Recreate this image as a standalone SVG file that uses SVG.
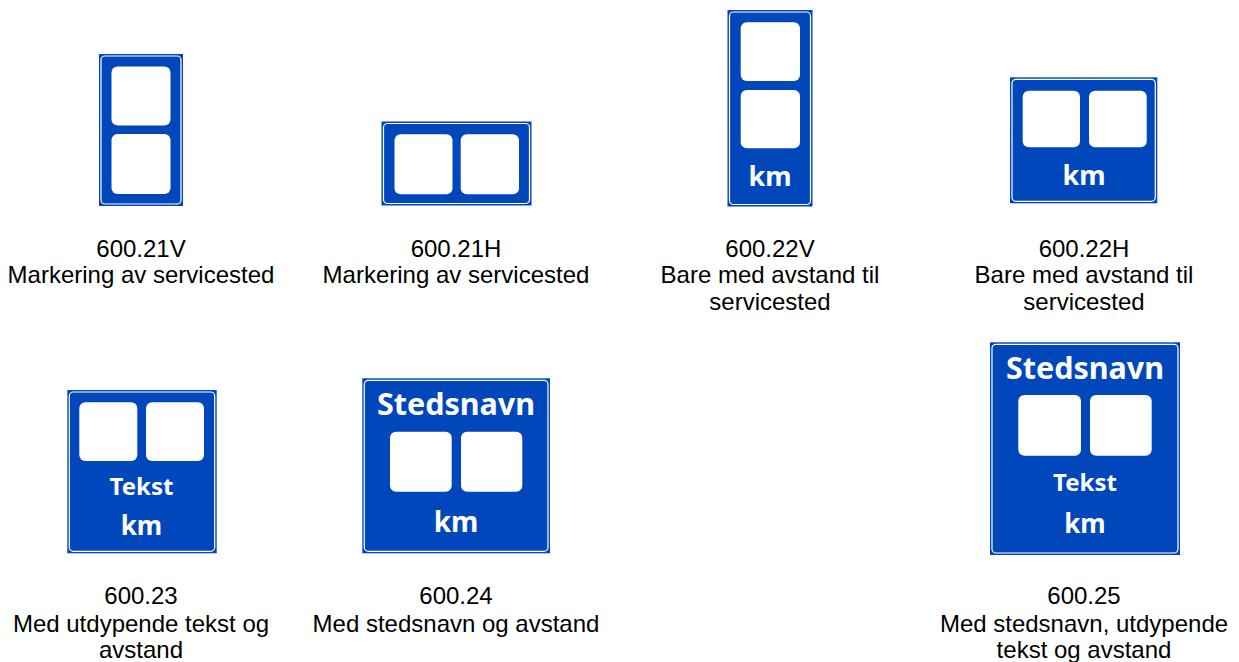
<svg xmlns="http://www.w3.org/2000/svg" width="1239" height="662" viewBox="0 0 1239 662">
<style>
.bg{fill:#0047bb}
.edge{fill:none;stroke:#ffffff;stroke-width:1.2}
.box{fill:#ffffff}
.st{font-family:"Noto Sans","DejaVu Sans",sans-serif;font-weight:bold;fill:#ffffff;text-anchor:middle}
.lb{font-family:"Liberation Sans",Arial,sans-serif;font-size:24px;fill:#000000;text-anchor:middle}
</style>
<rect width="1239" height="662" fill="#ffffff"/>

<g id="sign-600-21V">
<rect class="bg" x="99" y="54" width="84" height="152"/>
<rect class="edge" x="101" y="56" width="80" height="148" rx="4"/>
<rect class="box" x="111.5" y="66.5" width="59" height="59" rx="6"/>
<rect class="box" x="111.5" y="134" width="59" height="60" rx="6"/>
<text class="lb" x="141" y="256.5">600.21V</text>
<text class="lb" x="141" y="283.3">Markering av servicested</text>
</g>

<g id="sign-600-21H">
<rect class="bg" x="381.5" y="121.5" width="150" height="84"/>
<rect class="edge" x="383.5" y="123.5" width="146" height="80" rx="4"/>
<rect class="box" x="394.5" y="134.3" width="58" height="60" rx="6"/>
<rect class="box" x="460.7" y="134.3" width="58.3" height="60" rx="6"/>
<text class="lb" x="456" y="256.5">600.21H</text>
<text class="lb" x="456" y="283.3">Markering av servicested</text>
</g>

<g id="sign-600-22V">
<rect class="bg" x="727.5" y="10" width="85" height="196.5"/>
<rect class="edge" x="729.5" y="12" width="81" height="192.5" rx="4"/>
<rect class="box" x="740.7" y="22.3" width="59.3" height="58.7" rx="6"/>
<rect class="box" x="740.7" y="90" width="59.3" height="58.3" rx="6"/>
<text class="st" x="770" y="186" font-size="27">km</text>
<text class="lb" x="770" y="256.5">600.22V</text>
<text class="lb" x="770" y="283.3">Bare med avstand til</text>
<text class="lb" x="770" y="310">servicested</text>
</g>

<g id="sign-600-22H">
<rect class="bg" x="1010" y="77.3" width="147.3" height="126"/>
<rect class="edge" x="1012" y="79.3" width="143.3" height="122" rx="4"/>
<rect class="box" x="1022.7" y="90.7" width="57.3" height="56.6" rx="6"/>
<rect class="box" x="1089" y="90.7" width="57.7" height="56.6" rx="6"/>
<text class="st" x="1084" y="184.5" font-size="27">km</text>
<text class="lb" x="1084" y="256.5">600.22H</text>
<text class="lb" x="1084" y="283.3">Bare med avstand til</text>
<text class="lb" x="1084" y="310">servicested</text>
</g>

<g id="sign-600-23">
<rect class="bg" x="67.3" y="390" width="149.4" height="163.3"/>
<rect class="edge" x="69.3" y="392" width="145.4" height="159.3" rx="4"/>
<rect class="box" x="79.3" y="402.3" width="58" height="58.7" rx="6"/>
<rect class="box" x="146" y="402.3" width="58" height="58.7" rx="6"/>
<text class="st" x="141.5" y="494.5" font-size="24">Tekst</text>
<text class="st" x="141.5" y="535" font-size="26">km</text>
<text class="lb" x="141" y="604">600.23</text>
<text class="lb" x="141" y="631.5">Med utdypende tekst og</text>
<text class="lb" x="141" y="658.3">avstand</text>
</g>

<g id="sign-600-24">
<rect class="bg" x="362.3" y="378.3" width="187.7" height="175"/>
<rect class="edge" x="364.3" y="380.3" width="183.7" height="171" rx="4"/>
<rect class="box" x="390" y="431.7" width="61.7" height="60" rx="6"/>
<rect class="box" x="461" y="431.7" width="61.3" height="60" rx="6"/>
<text class="st" x="456" y="415" font-size="30.5">Stedsnavn</text>
<text class="st" x="456" y="531.7" font-size="28">km</text>
<text class="lb" x="456" y="604">600.24</text>
<text class="lb" x="456" y="631.5">Med stedsnavn og avstand</text>
</g>

<g id="sign-600-25">
<rect class="bg" x="990" y="342.3" width="190" height="212.7"/>
<rect class="edge" x="992" y="344.3" width="186" height="208.7" rx="4"/>
<rect class="box" x="1018.3" y="395" width="62.7" height="60.7" rx="6"/>
<rect class="box" x="1090" y="395" width="61.7" height="60.7" rx="6"/>
<text class="st" x="1085" y="379.3" font-size="30.5">Stedsnavn</text>
<text class="st" x="1085" y="491" font-size="24">Tekst</text>
<text class="st" x="1085" y="533.3" font-size="26">km</text>
<text class="lb" x="1084" y="604">600.25</text>
<text class="lb" x="1084" y="631.5">Med stedsnavn, utdypende</text>
<text class="lb" x="1084" y="658.3">tekst og avstand</text>
</g>

<g id="connectors"></g>
</svg>
